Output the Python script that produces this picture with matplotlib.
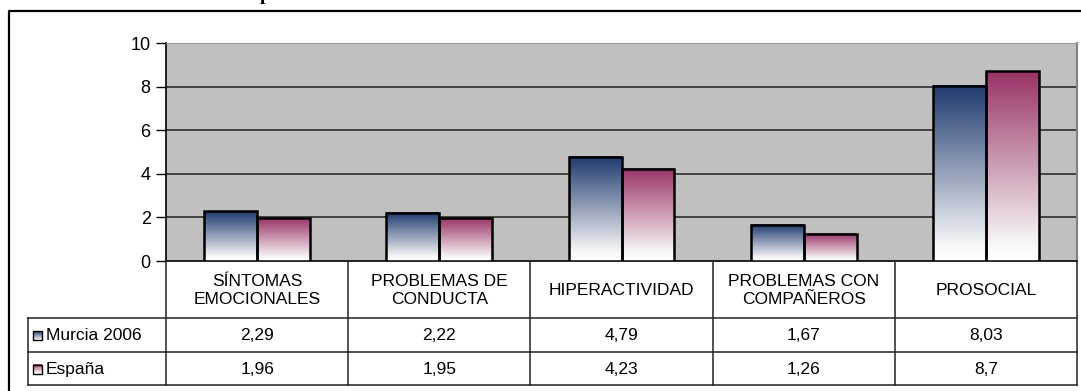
import matplotlib
matplotlib.use("Agg")
import matplotlib.pyplot as plt
import numpy as np
from matplotlib.colors import LinearSegmentedColormap

plt.rcParams['font.family'] = ['Liberation Sans', 'DejaVu Sans']

categories = ["SÍNTOMAS\nEMOCIONALES", "PROBLEMAS DE\nCONDUCTA", "HIPERACTIVIDAD",
              "PROBLEMAS CON\nCOMPAÑEROS", "PROSOCIAL"]
series_names = ["Murcia 2006", "España"]
murcia = [2.29, 2.22, 4.79, 1.67, 8.03]
espana = [1.96, 1.95, 4.23, 1.26, 8.7]
yticks = [0, 2, 4, 6, 8, 10]
colors = ["#1F3A6E", "#993366"]

W, H = 1081, 391
fig = plt.figure(figsize=(W / 100, H / 100), dpi=100)
fig.patch.set_facecolor("white")

# pixel geometry
L, R, T, B = 166, 1077, 43, 261
ax = fig.add_axes([L / W, (H - B) / H, (R - L) / W, (B - T) / H])
ax.set_facecolor("#C0C0C0")
ax.set_xlim(0, len(categories))
ax.set_ylim(0, 10)
ax.set_yticks(yticks)
ax.set_yticklabels([str(t) for t in yticks], fontsize=13)
ax.tick_params(axis='y', length=7, width=1, color='black', pad=4, direction='out')
ax.set_xticks([])
for g in yticks[1:]:
    ax.axhline(g, color="#222222", lw=1.1, zorder=1)
ax.spines['left'].set_color('black')
ax.spines['left'].set_linewidth(1.2)
ax.spines['bottom'].set_color('black')
ax.spines['bottom'].set_linewidth(1.2)
ax.spines['right'].set_color('#808080')
ax.spines['right'].set_linewidth(1.5)
ax.spines['top'].set_color('#999999')

bw = 0.29
x = np.arange(len(categories)) + 0.5
grad = np.linspace(0, 1, 256).reshape(-1, 1)
for vals, off, col in [(murcia, -bw / 2, colors[0]), (espana, bw / 2, colors[1])]:
    bars = ax.bar(x + off, vals, width=bw, facecolor='none', edgecolor='black',
                  lw=1.8, zorder=4)
    cmap = LinearSegmentedColormap.from_list(
        "g", [(0, "#FFFFFF"), (0.08, "#F9F9FA"), (1, col)])
    for p in bars:
        x0, w, h = p.get_x(), p.get_width(), p.get_height()
        ax.imshow(grad, extent=(x0, x0 + w, 0, h), origin='lower', cmap=cmap,
                  aspect='auto', zorder=3, interpolation='bicubic')
ax.set_xlim(0, len(categories))
ax.set_ylim(0, 10)

# overlay for table and frame, pixel coordinates
ov = fig.add_axes([0, 0, 1, 1])
ov.set_xlim(0, W)
ov.set_ylim(H, 0)
ov.axis('off')
ov.patch.set_alpha(0)

lc = '#222222'
r1, r2, r3 = 318, 352, 385
tl = 28
colw = (R - L) / len(categories)
bounds = [L + i * colw for i in range(len(categories) + 1)]
# vertical lines
for bx in bounds:
    ov.plot([bx, bx], [B, r3], color=lc, lw=1.1)
ov.plot([tl, tl], [r1, r3], color=lc, lw=1.1)
for ry in (r1, r2, r3):
    ov.plot([tl, R], [ry, ry], color=lc, lw=1.1)

for i, c in enumerate(categories):
    cx = (bounds[i] + bounds[i + 1]) / 2
    ov.text(cx, (B + r1) / 2 + 1, c, ha='center', va='center', fontsize=12.5,
            linespacing=1.25)
    ov.text(cx, (r1 + r2) / 2 + 1, f"{murcia[i]:g}".replace('.', ','),
            ha='center', va='center', fontsize=12.5)
    ov.text(cx, (r2 + r3) / 2 + 1, f"{espana[i]:g}".replace('.', ','),
            ha='center', va='center', fontsize=12.5)

for j, (name, col) in enumerate(zip(series_names, colors)):
    yc = ((r1 + r2) / 2, (r2 + r3) / 2)[j]
    cmap = LinearSegmentedColormap.from_list("k", ["#FFFFFF", col])
    ov.imshow(grad[::-1], extent=(33, 42, yc + 5, yc - 4), cmap=cmap,
              aspect='auto', zorder=3)
    ov.add_patch(plt.Rectangle((33, yc - 4), 9, 9, fill=False, ec='black',
                               lw=1, zorder=4))
    ov.text(46, yc + 1, name, ha='left', va='center', fontsize=12.5)
ov.set_xlim(0, W)
ov.set_ylim(H, 0)

# outer frame (cut off at right and bottom)
ov.plot([8.5, 8.5, W + 5], [H + 5, 10.5, 10.5], color='black', lw=1.6)
# fragment of title above the frame
ov.text(265, 0.5, "p", family=['Liberation Serif'], fontweight='bold',
        fontsize=14, ha='center', va='baseline')

fig.savefig("out.png", dpi=100)
